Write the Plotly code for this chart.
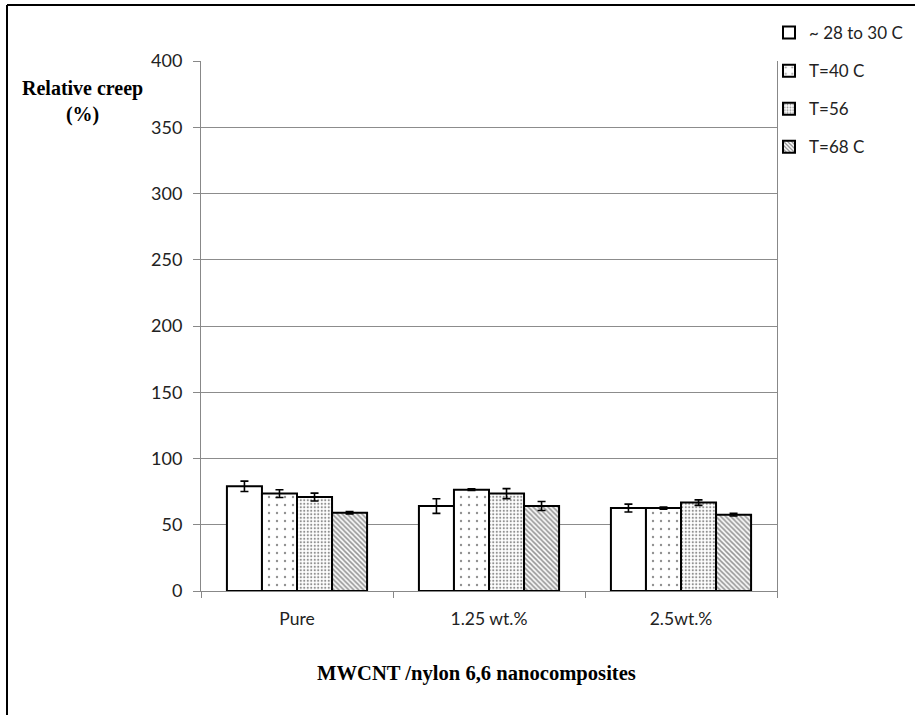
import plotly.graph_objects as go

categories = ["Pure", "1.25 wt.%", "2.5wt.%"]
series_names = ["~ 28 to 30 C", "T=40 C", "T=56", "T=68 C"]
values_rt = [79.0, 64.1, 62.6]
values_40 = [73.5, 76.5, 62.6]
values_56 = [70.9, 73.5, 66.7]
values_68 = [59.1, 64.1, 57.6]
err_rt = [3.9, 5.5, 3.0]
err_40 = [2.9, 0.6, 0.8]
err_56 = [3.0, 3.8, 2.1]
err_68 = [0.9, 3.4, 1.0]
y_ticks = [0, 50, 100, 150, 200, 250, 300, 350, 400]

series_values = [values_rt, values_40, values_56, values_68]
series_errs = [err_rt, err_40, err_56, err_68]
patterns = [
    dict(shape=""),
    dict(shape=".", size=8, solidity=0.07, fgcolor="#222222", bgcolor="white"),
    dict(shape=".", size=3.5, solidity=0.3, fgcolor="#222222", bgcolor="white"),
    dict(shape="\\", size=3.5, solidity=0.45, fgcolor="#222222", bgcolor="white"),
]

fig = go.Figure()
for i, (name, vals, errs) in enumerate(zip(series_names, series_values, series_errs)):
    fig.add_trace(go.Bar(
        x=categories, y=vals, name=name, legendgroup=f"g{i}",
        marker=dict(color="white", line=dict(color="black", width=2), pattern=patterns[i]),
        error_y=dict(type="data", array=errs, visible=True, color="black", thickness=1.6, width=4),
    ))

W, H = 915, 715
L, R, T, B = 201, 777, 61, 591
pw, ph = R - L, B - T

def px(x):
    return (x - L) / pw

def py(y):
    return (B - y) / ph

fig.update_layout(
    width=W, height=H,
    margin=dict(l=L, r=W - R, t=T, b=H - B, pad=0, autoexpand=False),
    paper_bgcolor="white", plot_bgcolor="white",
    barmode="group", bargap=0.27, bargroupgap=0,
    font=dict(family="Lato, Liberation Sans, sans-serif", size=17, color="#222222"),
    showlegend=True,
    legend=dict(x=px(769), y=py(15), xanchor="left", yanchor="top",
                font=dict(family="Lato, sans-serif", size=17, color="#222222"),
                tracegroupgap=13, bgcolor="rgba(0,0,0,0)", itemwidth=30),
    xaxis=dict(
        type="category", showgrid=False, showline=True, linecolor="#888888", linewidth=1,
        mirror=False, ticks="outside", tickson="boundaries", ticklen=6, tickcolor="#888888",
        ticklabelstandoff=12, tickfont=dict(size=17.5),
    ),
    yaxis=dict(
        range=[0, 400], tickvals=y_ticks, showgrid=True, gridcolor="#8c8c8c", gridwidth=1,
        showline=True, linecolor="#888888", linewidth=1, mirror=True,
        ticks="outside", ticklen=7, tickcolor="#888888", ticklabelstandoff=7,
        tickfont=dict(size=18), zeroline=False,
    ),
    annotations=[
        dict(text="<b>Relative creep<br>(%)</b>", x=px(82), y=py(101), xref="paper", yref="paper",
             xanchor="center", yanchor="middle", showarrow=False,
             font=dict(family="Liberation Serif, serif", size=20, color="black"),
             align="center"),
        dict(text="<b>MWCNT /nylon 6,6 nanocomposites</b>", x=px(476), y=py(673), xref="paper",
             yref="paper", xanchor="center", yanchor="middle", showarrow=False,
             font=dict(family="Liberation Serif, serif", size=20.6, color="black")),
    ],
    shapes=[
        dict(type="line", xref="paper", yref="paper", x0=px(7), x1=px(7), y0=py(5), y1=py(730),
             line=dict(color="black", width=2)),
        dict(type="line", xref="paper", yref="paper", x0=px(7), x1=px(930), y0=py(5), y1=py(5),
             line=dict(color="black", width=2)),
    ],
)

fig.write_html("out.html", config={"displayModeBar": False},
               post_script="document.body.style.margin='0';")
